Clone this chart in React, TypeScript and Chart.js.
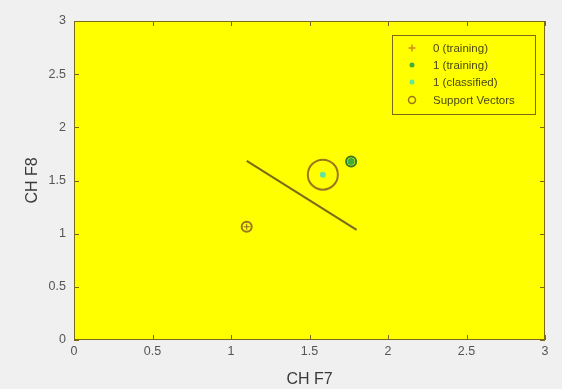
import React, { useEffect, useRef } from "react";
import { Chart, registerables } from "chart.js";

Chart.register(...registerables);

// Decision boundary of the classifier (CH F7 vs CH F8)
const boundaryX = [1.1, 1.8];
const boundaryY = [1.684, 1.035];

// Class 0 training samples
const train0X = [1.1];
const train0Y = [1.065];

// Class 1 training samples
const train1X = [1.765];
const train1Y = [1.678];

// Newly classified sample
const classifiedX = [1.585];
const classifiedY = [1.555];

// Support vectors
const svX = [1.1, 1.765];
const svY = [1.065, 1.678];

const axisTicks = [0, 0.5, 1, 1.5, 2, 2.5, 3];
const legendLabels = ["0 (training)", "1 (training)", "1 (classified)", "Support Vectors"];

const OLIVE = "#7a6a18";
const BROWN = "#9a7620";
const ORANGE = "#d68a1a";
const GREEN = "#3fae3a";
const CYAN = "#62e5a0";
const FONT = "'Liberation Sans', Arial, Helvetica, sans-serif";

const pts = (xs: number[], ys: number[]) => xs.map((x, i) => ({ x, y: ys[i] }));

const framePlugin = {
  id: "frame",
  beforeDraw(chart: any) {
    const { ctx, chartArea: a, width, height } = chart;
    ctx.save();
    ctx.fillStyle = "#f0f0f0";
    ctx.fillRect(0, 0, width, height);
    ctx.fillStyle = "#ffff00";
    ctx.fillRect(a.left, a.top, a.right - a.left, a.bottom - a.top);
    ctx.restore();
  },
  afterDraw(chart: any) {
    const { ctx, chartArea: a, scales } = chart;
    const xs = scales.x;
    const ys = scales.y;
    ctx.save();
    ctx.strokeStyle = OLIVE;
    ctx.lineWidth = 1;
    ctx.strokeRect(a.left + 0.5, a.top + 0.5, a.right - a.left - 1, a.bottom - a.top - 1);
    const tl = 5;
    ctx.beginPath();
    axisTicks.forEach((v) => {
      const px = Math.round(xs.getPixelForValue(v)) + 0.5;
      ctx.moveTo(px, a.bottom);
      ctx.lineTo(px, a.bottom - tl);
      ctx.moveTo(px, a.top);
      ctx.lineTo(px, a.top + tl);
      const py = Math.round(ys.getPixelForValue(v)) + 0.5;
      ctx.moveTo(a.left, py);
      ctx.lineTo(a.left + tl, py);
      ctx.moveTo(a.right, py);
      ctx.lineTo(a.right - tl, py);
    });
    ctx.stroke();

    // Legend box
    const lx = 392, ly = 35, lw = 143, lh = 79;
    ctx.fillStyle = "#ffff00";
    ctx.fillRect(lx, ly, lw, lh);
    ctx.strokeStyle = OLIVE;
    ctx.strokeRect(lx + 0.5, ly + 0.5, lw, lh);
    const rows = [48, 65, 82, 100];
    const mx = 412;
    ctx.font = `11.5px ${FONT}`;
    ctx.textBaseline = "middle";
    ctx.textAlign = "left";
    legendLabels.forEach((label, i) => {
      const y = rows[i];
      ctx.lineWidth = 1.5;
      if (i === 0) {
        ctx.strokeStyle = ORANGE;
        ctx.beginPath();
        ctx.moveTo(mx - 3.5, y);
        ctx.lineTo(mx + 3.5, y);
        ctx.moveTo(mx, y - 3.5);
        ctx.lineTo(mx, y + 3.5);
        ctx.stroke();
      } else if (i === 1 || i === 2) {
        ctx.fillStyle = i === 1 ? GREEN : CYAN;
        ctx.beginPath();
        ctx.arc(mx, y, 2.5, 0, Math.PI * 2);
        ctx.fill();
      } else {
        ctx.strokeStyle = BROWN;
        ctx.beginPath();
        ctx.arc(mx, y, 3.5, 0, Math.PI * 2);
        ctx.stroke();
      }
      ctx.fillStyle = "#4a4a10";
      ctx.fillText(label, 433, y + 0.5);
    });
    ctx.restore();
  },
};

export default function App() {
  const ref = useRef<HTMLCanvasElement | null>(null);

  useEffect(() => {
    document.body.style.margin = "0";
    if (!ref.current) return;
    const chart = new Chart(ref.current, {
      type: "scatter",
      data: {
        datasets: [
          {
            type: "line",
            label: "boundary",
            data: pts(boundaryX, boundaryY),
            borderColor: OLIVE,
            borderWidth: 2,
            pointRadius: 0,
            showLine: true,
          },
          {
            label: "Support Vectors",
            data: pts(svX, svY),
            pointStyle: "circle",
            pointRadius: 5,
            backgroundColor: "rgba(0,0,0,0)",
            borderColor: [BROWN, "#2f7a2a"],
            borderWidth: 2,
          },
          {
            label: "0 (training)",
            data: pts(train0X, train0Y),
            pointStyle: "cross",
            pointRadius: 3,
            borderColor: "#8a6a20",
            borderWidth: 1,
          },
          {
            label: "1 (training)",
            data: pts(train1X, train1Y),
            pointStyle: "circle",
            pointRadius: 3.5,
            backgroundColor: GREEN,
            borderWidth: 0,
          },
          {
            label: "1 (classified)",
            data: pts(classifiedX, classifiedY),
            pointStyle: "circle",
            pointRadius: 3,
            backgroundColor: CYAN,
            borderWidth: 0,
          },
          {
            label: "classified ring",
            data: pts(classifiedX, classifiedY),
            pointStyle: "circle",
            pointRadius: 15,
            backgroundColor: "rgba(0,0,0,0)",
            borderColor: BROWN,
            borderWidth: 2,
          },
        ],
      },
      options: {
        animation: false,
        responsive: false,
        maintainAspectRatio: false,
        layout: { padding: { top: 21, right: 13, left: 0, bottom: 0 } },
        plugins: { legend: { display: false }, tooltip: { enabled: false } },
        scales: {
          x: {
            type: "linear",
            min: 0,
            max: 3,
            afterBuildTicks: (s: any) => {
              s.ticks = axisTicks.map((v) => ({ value: v }));
            },
            afterFit: (s: any) => {
              s.height = 49;
            },
            grid: { display: false, drawTicks: false, tickLength: 0 },
            border: { display: false },
            ticks: {
              color: "#555555",
              font: { family: FONT, size: 12.5 },
              padding: 4,
              maxRotation: 0,
              callback: (v: any) => String(v),
            },
            title: {
              display: true,
              text: "CH F7",
              color: "#3a3a3a",
              font: { family: FONT, size: 16 },
              padding: { top: 0, bottom: 0 },
            },
          },
          y: {
            type: "linear",
            min: 0,
            max: 3,
            afterBuildTicks: (s: any) => {
              s.ticks = axisTicks.map((v) => ({ value: v }));
            },
            afterFit: (s: any) => {
              s.width = 74;
            },
            grid: { display: false, drawTicks: false, tickLength: 0 },
            border: { display: false },
            ticks: {
              color: "#555555",
              font: { family: FONT, size: 12.5 },
              padding: 8,
              callback: (v: any) => String(v),
            },
            title: {
              display: true,
              text: "CH F8",
              color: "#3a3a3a",
              font: { family: FONT, size: 16 },
              padding: { top: 23, bottom: 0 },
            },
          },
        },
      },
      plugins: [framePlugin],
    });
    return () => chart.destroy();
  }, []);

  return (
    <div style={{ position: "absolute", left: 0, top: 0, width: 562, height: 389 }}>
      <canvas ref={ref} width={562} height={389} style={{ width: 562, height: 389 }} />
    </div>
  );
}
